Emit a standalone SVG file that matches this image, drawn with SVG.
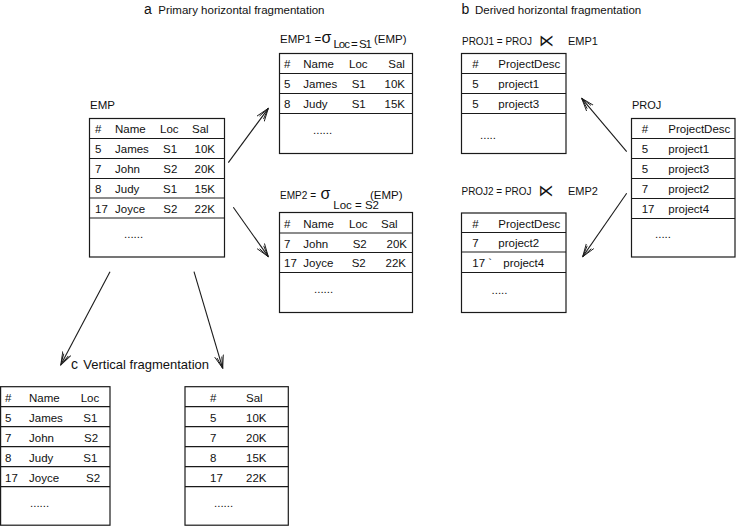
<svg xmlns="http://www.w3.org/2000/svg" width="736" height="526" viewBox="0 0 736 526">
<style>
text{font-family:"Liberation Sans",Arial,sans-serif;font-size:11.5px;fill:#111}
.t{fill:none;stroke:#1a1a1a;stroke-width:1.2}
.c{fill:none;stroke:#1a1a1a;stroke-width:1.1}
.big{font-size:14px}
.h{font-size:13px}
.lb{font-size:11px}
.sig{font-size:16px}
.j{font-family:"DejaVu Sans",sans-serif;font-size:16px}
</style>
<defs>
<marker id="ah" markerUnits="userSpaceOnUse" markerWidth="16" markerHeight="12" refX="13" refY="6" orient="auto">
<path d="M0,1.5 L13,6 L0,10.5 M1.5,3.5 L13,6 L1.5,8.5" fill="none" stroke="#1a1a1a" stroke-width="0.9"/>
</marker>
</defs>

<g id="titles">
<text x="144" y="14" class="big">a</text>
<text x="158.3" y="14">Primary horizontal fragmentation</text>
<text x="461.5" y="14" class="big">b</text>
<text x="475" y="14">Derived horizontal fragmentation</text>
<text x="71" y="368.5" class="big">c</text>
<text x="83.3" y="368.5" class="h">Vertical fragmentation</text>
</g>

<g id="emp">
<text x="90" y="108.5">EMP</text>
<rect class="t" x="89.5" y="118.5" width="135" height="138.5"/>
<path class="t" d="M89.5,138.5H224.5M89.5,158.5H224.5M89.5,178.5H224.5M89.5,198H224.5M89.5,218H224.5"/>
<text x="95" y="133">#</text><text x="115" y="133">Name</text><text x="160" y="133">Loc</text><text x="192" y="133">Sal</text>
<text x="95" y="153">5</text><text x="115" y="153">James</text><text x="163" y="153">S1</text><text x="215" y="153" text-anchor="end">10K</text>
<text x="95" y="173">7</text><text x="115" y="173">John</text><text x="163.3" y="173">S2</text><text x="215" y="173" text-anchor="end">20K</text>
<text x="95" y="193">8</text><text x="115" y="193">Judy</text><text x="163" y="193">S1</text><text x="215" y="193" text-anchor="end">15K</text>
<text x="95" y="212.5">17</text><text x="115" y="212.5">Joyce</text><text x="163.3" y="212.5">S2</text><text x="215" y="212.5" text-anchor="end">22K</text>
<text x="124" y="238">......</text>
</g>

<g id="emp1">
<text x="280" y="43" font-size="10.5">EMP1 =</text>
<text x="321.5" y="43" class="sig">σ</text>
<text x="333.5" y="47.5" font-size="9.5" textLength="38.5" lengthAdjust="spacing">Loc = S1</text>
<text x="374" y="42.5">(EMP)</text>
<rect class="t" x="279.5" y="53.5" width="133" height="100"/>
<path class="t" d="M279.5,73.5H412.5M279.5,93.5H412.5M279.5,113.5H412.5"/>
<text x="284" y="68">#</text><text x="303.3" y="68">Name</text><text x="349" y="68">Loc</text><text x="388.3" y="68">Sal</text>
<text x="284" y="88">5</text><text x="303.3" y="88">James</text><text x="351.7" y="88">S1</text><text x="405" y="88" text-anchor="end">10K</text>
<text x="284" y="108">8</text><text x="303.3" y="108">Judy</text><text x="351.7" y="108">S1</text><text x="405" y="108" text-anchor="end">15K</text>
<text x="313" y="134">......</text>
</g>

<g id="emp2">
<text x="280" y="198.5" class="lb" textLength="36" lengthAdjust="spacingAndGlyphs">EMP2 =</text>
<text x="320.5" y="198.5" class="sig">σ</text>
<text x="333.3" y="208.5" font-size="8.5">Loc = S2</text>
<text x="370" y="198.5">(EMP)</text>
<rect class="t" x="279.5" y="212.5" width="133" height="100"/>
<path class="t" d="M279.5,233H412.5M279.5,252.5H412.5M279.5,272.5H412.5"/>
<text x="284" y="227.5">#</text><text x="303.3" y="227.5">Name</text><text x="349" y="227.5">Loc</text><text x="381" y="227.5">Sal</text>
<text x="284" y="247.5">7</text><text x="303.3" y="247.5">John</text><text x="352.7" y="247.5">S2</text><text x="407" y="247.5" text-anchor="end">20K</text>
<text x="284" y="267">17</text><text x="303.3" y="267">Joyce</text><text x="351.7" y="267">S2</text><text x="406" y="267" text-anchor="end">22K</text>
<text x="314" y="293">......</text>
</g>

<g id="proj1">
<text x="462" y="45" class="lb" textLength="70" lengthAdjust="spacingAndGlyphs">PROJ1 = PROJ</text>
<text x="539" y="46" class="j" textLength="15" lengthAdjust="spacingAndGlyphs">⋉</text>
<text x="568" y="45" class="lb">EMP1</text>
<rect class="t" x="461.5" y="53.5" width="104.5" height="100"/>
<path class="t" d="M461.5,73.5H566M461.5,93.5H566M461.5,113.5H566"/>
<text x="472.3" y="68">#</text><text x="498.3" y="68">ProjectDesc</text>
<text x="472.3" y="88">5</text><text x="498.3" y="88">project1</text>
<text x="472.3" y="108">5</text><text x="498.3" y="108">project3</text>
<text x="480" y="139">.....</text>
</g>

<g id="proj2">
<text x="461.5" y="194.5" class="lb" textLength="70" lengthAdjust="spacingAndGlyphs">PROJ2 = PROJ</text>
<text x="538.5" y="195.5" class="j" textLength="15" lengthAdjust="spacingAndGlyphs">⋉</text>
<text x="568" y="194.5" class="lb">EMP2</text>
<rect class="t" x="461.5" y="213" width="104.5" height="99.5"/>
<path class="t" d="M461.5,232.5H566M461.5,252H566M461.5,272.5H566"/>
<text x="472.3" y="227.5">#</text><text x="498.3" y="227.5">ProjectDesc</text>
<text x="472.3" y="247">7</text><text x="498.3" y="247">project2</text>
<text x="472.3" y="267">17 `</text><text x="503.3" y="267">project4</text>
<text x="491.5" y="293.5">.....</text>
</g>

<g id="proj">
<text x="632" y="108.5" class="lb">PROJ</text>
<rect class="t" x="631.5" y="118.5" width="103.5" height="138.5"/>
<path class="t" d="M631.5,138.5H735M631.5,158.5H735M631.5,178.5H735M631.5,198.5H735M631.5,218.5H735"/>
<text x="641.7" y="133">#</text><text x="668.3" y="133">ProjectDesc</text>
<text x="641.7" y="153">5</text><text x="668.3" y="153">project1</text>
<text x="641.7" y="173">5</text><text x="668.3" y="173">project3</text>
<text x="641.7" y="193">7</text><text x="668.3" y="193">project2</text>
<text x="641.7" y="213">17</text><text x="668.3" y="213">project4</text>
<text x="655" y="238">.....</text>
</g>

<g id="vfrag1">
<rect class="t" x="0.6" y="386.7" width="109.4" height="138.5"/>
<path class="t" d="M0.6,406.7H110M0.6,426.7H110M0.6,446.7H110M0.6,466.7H110M0.6,486.7H110"/>
<text x="5" y="401.5">#</text><text x="29" y="401.5">Name</text><text x="80.7" y="401.5">Loc</text>
<text x="5" y="421.5">5</text><text x="29" y="421.5">James</text><text x="83.3" y="421.5">S1</text>
<text x="5" y="441.5">7</text><text x="29" y="441.5">John</text><text x="84" y="441.5">S2</text>
<text x="5" y="461.5">8</text><text x="29" y="461.5">Judy</text><text x="83.3" y="461.5">S1</text>
<text x="5" y="481.5">17</text><text x="29" y="481.5">Joyce</text><text x="86" y="481.5">S2</text>
<text x="30" y="507">......</text>
</g>

<g id="vfrag2">
<rect class="t" x="185" y="386.7" width="103.3" height="138.5"/>
<path class="t" d="M185,406.7H288.3M185,426.7H288.3M185,446.7H288.3M185,466.7H288.3M185,486.7H288.3"/>
<text x="210" y="401.5">#</text><text x="246" y="401.5">Sal</text>
<text x="210" y="421.5">5</text><text x="246" y="421.5">10K</text>
<text x="210" y="441.5">7</text><text x="246" y="441.5">20K</text>
<text x="210" y="461.5">8</text><text x="246" y="461.5">15K</text>
<text x="210" y="481.5">17</text><text x="246" y="481.5">22K</text>
<text x="214" y="507">......</text>
</g>

<g id="connectors">
<line class="c" x1="228.3" y1="162.7" x2="268.3" y2="108.3" marker-end="url(#ah)"/>
<line class="c" x1="233.3" y1="207.3" x2="268.3" y2="256.7" marker-end="url(#ah)"/>
<line class="c" x1="626.7" y1="151.7" x2="581.7" y2="98.3" marker-end="url(#ah)"/>
<line class="c" x1="626.7" y1="193.3" x2="582.7" y2="256.7" marker-end="url(#ah)"/>
<line class="c" x1="110" y1="271.7" x2="60.7" y2="365" marker-end="url(#ah)"/>
<line class="c" x1="194" y1="271.7" x2="222.7" y2="368.3" marker-end="url(#ah)"/>
</g>
</svg>
